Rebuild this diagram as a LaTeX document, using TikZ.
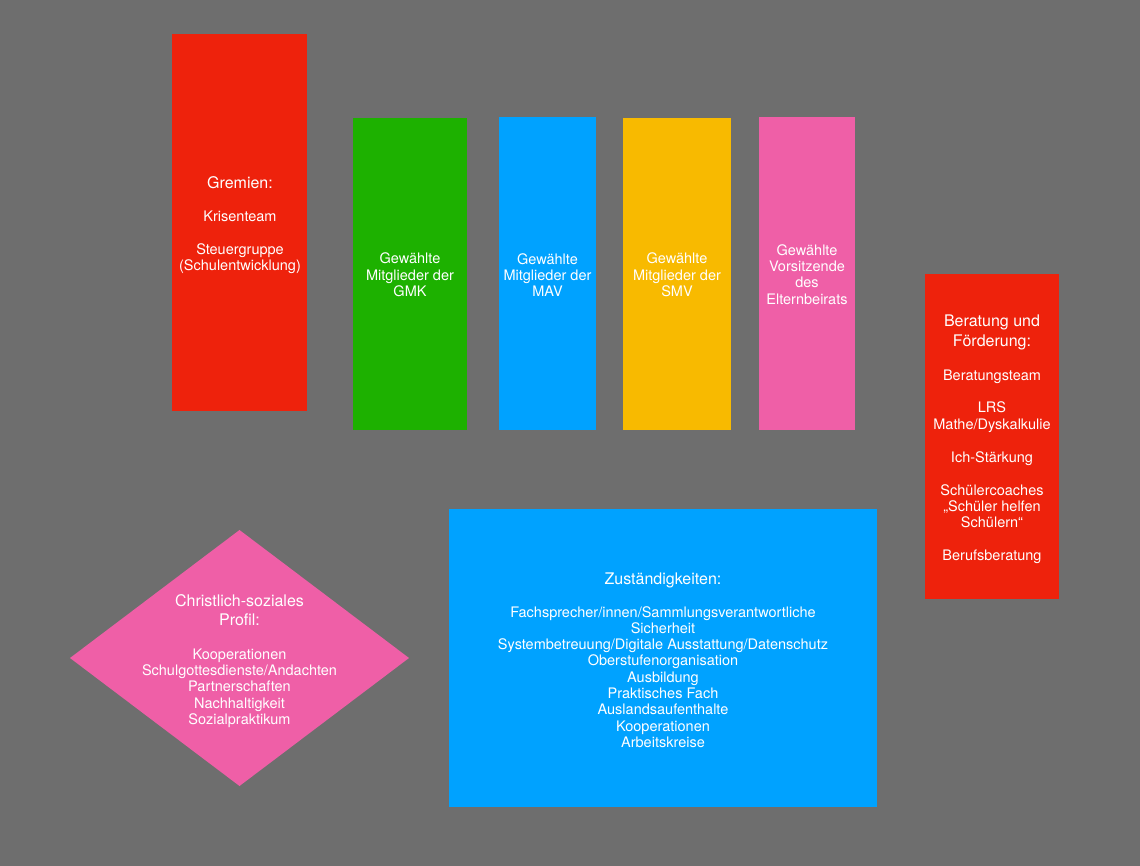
\documentclass[tikz,border=0pt]{standalone}
\usepackage{fontspec}
\setmainfont{TeX Gyre Heros}
\definecolor{bgray}{HTML}{6E6E6E}
\definecolor{kred}{HTML}{EE220C}
\definecolor{kgreen}{HTML}{1DB100}
\definecolor{kblue}{HTML}{00A2FF}
\definecolor{kyellow}{HTML}{F8BA00}
\definecolor{kpink}{HTML}{EF5FA7}
\newcommand{\ttlfont}{\fontsize{16}{16.3}\selectfont}
\begin{document}
\begin{tikzpicture}[x=1pt,y=-1pt,
  box/.style={rectangle, draw=none, inner sep=0pt, outer sep=0pt, anchor=north west},
  lbl/.style={text=white, align=center, inner sep=0pt, font=\fontsize{14.5}{16.3}\selectfont}]
\fill[bgray] (0,0) rectangle (1140,866);
\useasboundingbox (0,0) rectangle (1140,866);
% boxes
\node[box, fill=kred, minimum width=135pt, minimum height=377pt] (gremien) at (172,34) {};
\node[box, fill=kgreen, minimum width=114pt, minimum height=312pt] (gmk) at (353,118) {};
\node[box, fill=kblue, minimum width=97pt, minimum height=313pt] (mav) at (499,117) {};
\node[box, fill=kyellow, minimum width=108pt, minimum height=312pt] (smv) at (623,118) {};
\node[box, fill=kpink, minimum width=96pt, minimum height=313pt] (eltern) at (759,117) {};
\node[box, fill=kred, minimum width=134pt, minimum height=325pt] (beratung) at (925,274) {};
\node[box, fill=kblue, minimum width=428pt, minimum height=298pt] (zust) at (449,509) {};
\fill[kpink] (70,658) -- (239.5,530) -- (409,658) -- (239.5,786) -- cycle;
\coordinate (profil) at (239.5,658);
% texts
\node[lbl] (tgremien) at (240,225) {{\ttlfont Gremien:}\\[16.7pt]
  Krisenteam\\[16.7pt] Steuergruppe\\(Schulentwicklung)};
\node[lbl] (tgmk) at (410,275) {Gewählte\\Mitglieder der\\GMK};
\node[lbl] (tmav) at (547.5,275) {Gewählte\\Mitglieder der\\MAV};
\node[lbl] (tsmv) at (677,275) {Gewählte\\Mitglieder der\\SMV};
\node[lbl] (teltern) at (807,274.5) {Gewählte\\Vorsitzende\\des\\Elternbeirats};
\node[lbl] (tberatung) at (992,439.5) {{\ttlfont Beratung und}\\[3.7pt]
  {\ttlfont Förderung:}\\[17.7pt]
  Beratungsteam\\[15.7pt] LRS\\Mathe/Dyskalkulie\\[16.7pt] Ich-Stärkung\\[16.7pt]
  Schülercoaches\\„Schüler helfen\\Schülern“\\[16.7pt] Berufsberatung};
\node[lbl] (tzust) at (663,660) {{\ttlfont Zuständigkeiten:}\\[16.7pt]
  Fachsprecher/innen/Sammlungsverantwortliche\\Sicherheit\\
  Systembetreuung/Digitale Ausstattung/Datenschutz\\Oberstufenorganisation\\
  Ausbildung\\Praktisches Fach\\Auslandsaufenthalte\\Kooperationen\\Arbeitskreise};
\node[lbl] (tprofil) at (239.5,661) {{\ttlfont Christlich-soziales}\\[2.7pt]
  {\ttlfont Profil:}\\[17.7pt]
  Kooperationen\\Schulgottesdienste/Andachten\\Partnerschaften\\Nachhaltigkeit\\Sozialpraktikum};
\end{tikzpicture}
\end{document}
